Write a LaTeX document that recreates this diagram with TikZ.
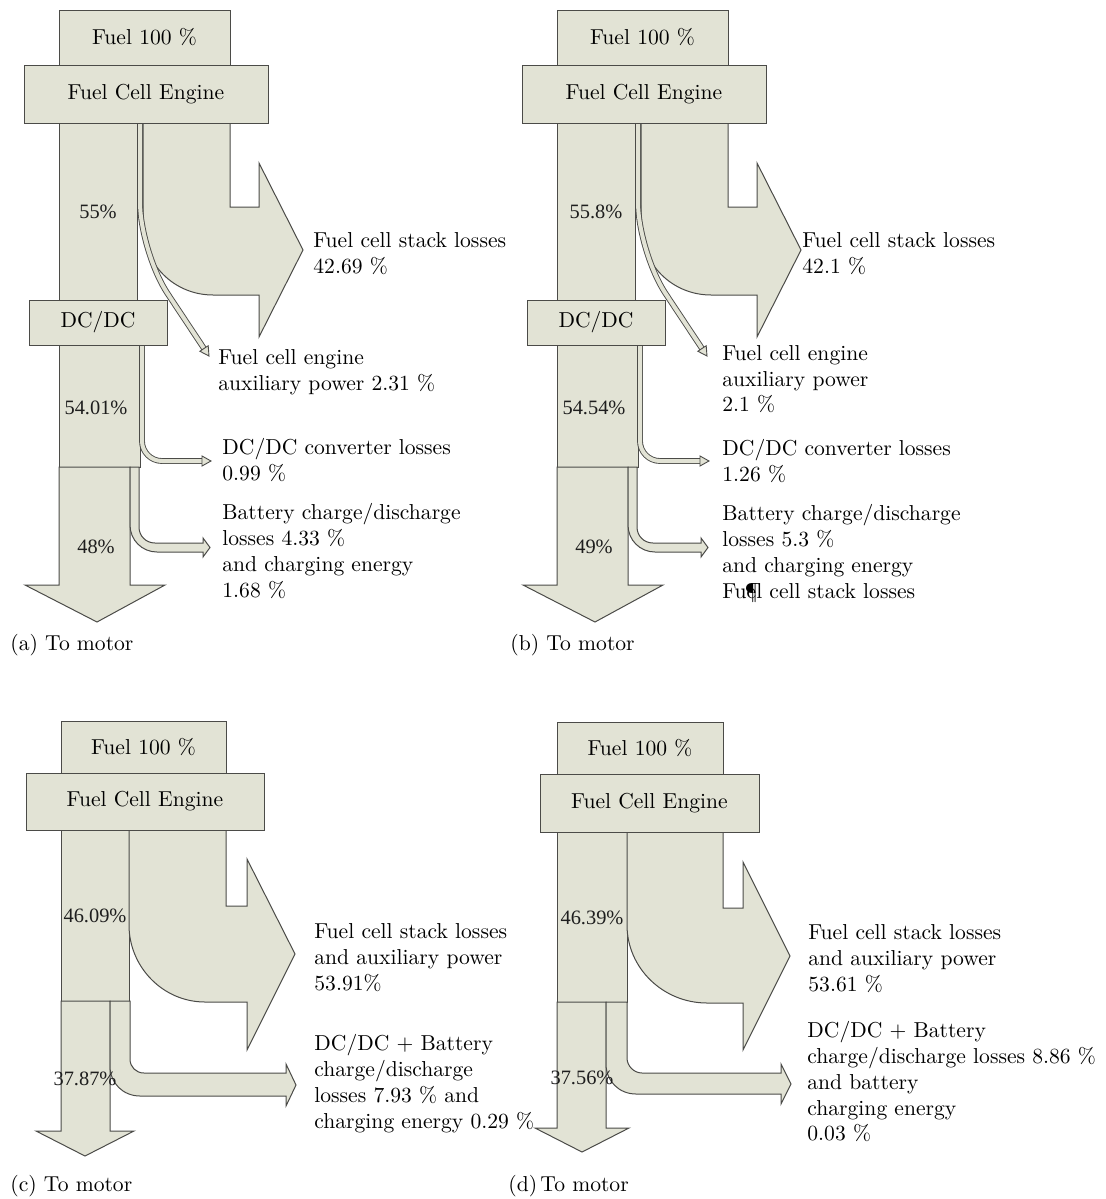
\documentclass[tikz,border=0pt]{standalone}
\usepackage{fontspec}
\newfontfamily\pctfont{Liberation Serif}
\usetikzlibrary{calc}
\definecolor{flow}{RGB}{226,227,213}
\definecolor{edge}{RGB}{75,75,72}
\definecolor{pcttext}{RGB}{30,30,30}
\newcommand\lab{\fontsize{10.8}{12.9}\selectfont}
\tikzset{
  flowshape/.style={fill=flow, draw=edge, line width=0.5pt, line join=miter},
  thinflow/.style={draw=edge, line width=0.45pt, double=flow, double distance=2pt},
  tipshape/.style={fill=flow, draw=edge, line width=0.45pt, line join=miter},
  box/.style={flowshape, inner sep=0pt, font=\lab},
  pct/.style={font=\pctfont\fontsize{10.2}{12}\selectfont, text=pcttext, inner sep=0pt},
  lab/.style={font=\lab, align=left, anchor=north west, inner sep=0pt},
  caption/.style={font=\lab, anchor=west, inner sep=0pt},
}
% small open arrow head of a thin flow: #1 tip coordinate, #2 direction
\newcommand\flowtip[2]{\draw[tipshape, shift={(#1)}, rotate=#2] (0,0) -- (-9,5) -- (-9,-5) -- cycle;}
% flow chart with DC/DC stage: #1 prefix, #2-#4 percentages
\newcommand\panelAB[4]{%
  % column fuel cell engine -> DC/DC
  \draw[flowshape] (59,123) rectangle (137,300);
  % fuel cell stack losses
  \draw[flowshape] (143,123) -- (143,225) .. controls (143,264) and (174,295) .. (213,295)
     -- (259,295) -- (259,337) -- (303,250) -- (259,163) -- (259,207) -- (230,207) -- (230,123) -- cycle;
  % column DC/DC -> battery
  \draw[flowshape] (59,345) rectangle (140,467);
  % to motor
  \draw[flowshape] (59,467) -- (59,585) -- (25,585) -- (97,622) -- (165,585) -- (130,585) -- (130,467) -- cycle;
  % battery charge/discharge losses
  \draw[flowshape] (130,467) -- (139,467) -- (139,527) .. controls (139,536) and (146,543) .. (155,543)
     -- (203,543) -- (203,538) -- (210,547.5) -- (203,557) -- (203,552) -- (157,552)
     .. controls (142,552) and (130,540) .. (130,525) -- cycle;
  % auxiliary power
  \coordinate (#1-auxtip) at (209,356);
  \draw[thinflow, rounded corners=25pt] (140,123) -- (140,252) -- (204,348.5);
  \flowtip{#1-auxtip}{-56.5}
  % DC/DC converter losses
  \coordinate (#1-dctip) at (211,461);
  \draw[thinflow, rounded corners=10pt] (142,345) -- (142,461) -- (202,461);
  \flowtip{#1-dctip}{0}
  % blocks
  \node[box, minimum width=85.5pt, minimum height=27.5pt] (#1-fuel) at (144.5,37.5) {Fuel 100 \%};
  \node[box, minimum width=122pt, minimum height=29pt] (#1-fce) at (146,94) {Fuel Cell Engine};
  \node[box, minimum width=69pt, minimum height=22.5pt] (#1-dcdc) at (98,322.5) {DC/DC};
  \node[pct] (#1-p1) at (98,212) {#2};
  \node[pct] (#1-p2) at (96,408) {#3};
  \node[pct] (#1-p3) at (96,547) {#4};
}
\begin{document}
\begin{tikzpicture}[x=0.5pt, y=-0.5pt]
\useasboundingbox (0,0) rectangle (1106,1199);
\fill[white] (0,0) rectangle (1106,1199);

% ---------------- (a)
\panelAB{a}{55\%}{54.01\%}{48\%}
\node[lab] (a-stack) at (313,232) {Fuel cell stack losses\\42.69 \%};
\node[lab] (a-aux) at (218,349) {Fuel cell engine\\auxiliary power 2.31 \%};
\node[lab] (a-dc) at (222,438) {DC/DC converter losses\\0.99 \%};
\node[lab] (a-batt) at (222,503) {Battery charge/discharge\\losses 4.33 \%\\and charging energy\\1.68 \%};
\node[caption] (a-cap) at (10,645) {(a)\ To motor};

% ---------------- (b)
\begin{scope}[shift={(498,0)}]
\panelAB{b}{55.8\%}{54.54\%}{49\%}
\end{scope}
\node[lab] (b-stack) at (802,232) {Fuel cell stack losses\\42.1 \%};
\node[lab] (b-aux) at (722,345) {Fuel cell engine\\auxiliary power\\2.1 \%};
\node[lab] (b-dc) at (722,439) {DC/DC converter losses\\1.26 \%};
\node[lab] (b-batt) at (722,504) {Battery charge/discharge\\losses 5.3 \%\\and charging energy\\Fu\rlap{e}\makebox[0.444em]{\P}l cell stack losses};
\node[caption] (b-cap) at (510,645) {(b)\ To motor};

% ---------------- (c)
\draw[flowshape] (61,830) rectangle (129,1001);
\draw[flowshape] (129,830) -- (129,925) .. controls (129,967) and (163,1002) .. (205,1002)
   -- (247,1002) -- (247,1050) -- (295,954) -- (247,859) -- (247,906) -- (226,906) -- (226,830) -- cycle;
\draw[flowshape] (61,1001) -- (61,1131) -- (36,1131) -- (85,1156) -- (134,1131) -- (110,1131) -- (110,1001) -- cycle;
\draw[flowshape] (110,1001) -- (130,1001) -- (130,1059) .. controls (130,1067) and (136,1073) .. (144,1073)
   -- (286,1073) -- (286,1064) -- (296,1085) -- (286,1106) -- (286,1096) -- (140,1096)
   .. controls (123,1096) and (110,1083) .. (110,1066) -- cycle;
\node[box, minimum width=82.5pt, minimum height=26pt] (c-fuel) at (143.5,747) {Fuel 100 \%};
\node[box, minimum width=119pt, minimum height=28.5pt] (c-fce) at (145,801.5) {Fuel Cell Engine};
\node[pct] (c-p1) at (95,916) {46.09\%};
\node[pct] (c-p2) at (85,1079) {37.87\%};
\node[lab] (c-stack) at (314,923) {Fuel cell stack losses\\and auxiliary power\\53.91\%};
\node[lab] (c-batt) at (314,1034) {DC/DC + Battery\\charge/discharge\\losses 7.93 \% and\\charging energy 0.29 \%};
\node[caption] (c-cap) at (10,1186) {(c) To motor};

% ---------------- (d)
\draw[flowshape] (557,832) rectangle (627,1002);
\draw[flowshape] (627,832) -- (627,925) .. controls (627,968) and (663,1003) .. (707,1003)
   -- (743,1003) -- (743,1050) -- (790,956) -- (743,862) -- (743,908) -- (723,908) -- (723,832) -- cycle;
\draw[flowshape] (557,1002) -- (557,1128) -- (535,1128) -- (582,1152) -- (629,1128) -- (606,1128) -- (606,1002) -- cycle;
\draw[flowshape] (606,1002) -- (627,1002) -- (627,1058) .. controls (627,1066) and (634,1073) .. (642,1073)
   -- (781,1073) -- (781,1064) -- (791,1084) -- (781,1104) -- (781,1094) -- (636,1094)
   .. controls (619,1094) and (606,1081) .. (606,1064) -- cycle;
\node[box, minimum width=83pt, minimum height=26pt] (d-fuel) at (640,748) {Fuel 100 \%};
\node[box, minimum width=109.5pt, minimum height=29pt] (d-fce) at (649.5,803) {Fuel Cell Engine};
\node[pct] (d-p1) at (592,918) {46.39\%};
\node[pct] (d-p2) at (582,1078) {37.56\%};
\node[lab] (d-stack) at (808,924) {Fuel cell stack losses\\and auxiliary power\\53.61 \%};
\node[lab] (d-batt) at (807,1021) {DC/DC + Battery\\charge/discharge losses 8.86 \%\\and battery\\charging energy\\0.03 \%};
\node[caption] (d-cap) at (508,1186) {(d)\hspace{0.15em}To motor};
\end{tikzpicture}
\end{document}
